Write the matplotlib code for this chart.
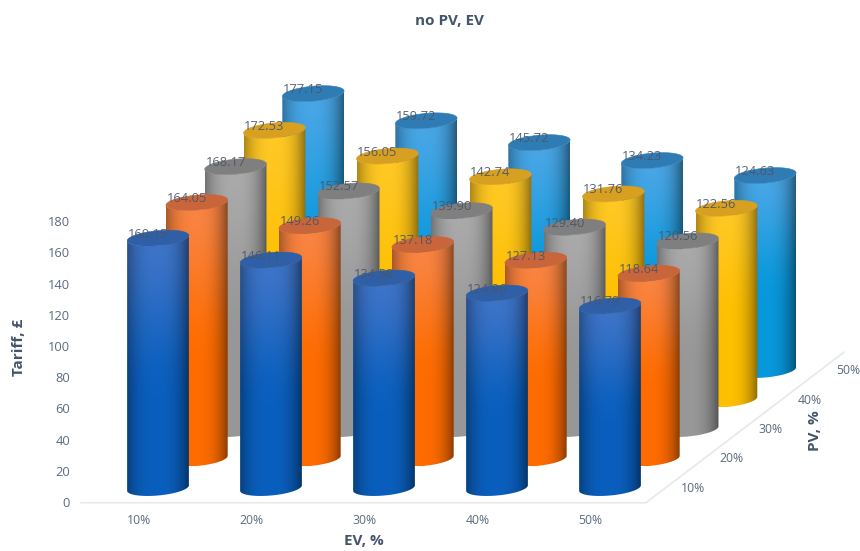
import numpy as np
import matplotlib
matplotlib.use("Agg")
import matplotlib.pyplot as plt
from matplotlib.path import Path
from matplotlib.patches import PathPatch

plt.rcParams['font.family'] = ['Open Sans', 'DejaVu Sans']

ev_labels = ["10%", "20%", "30%", "40%", "50%"]
pv_labels = ["10%", "20%", "30%", "40%", "50%"]
tariff_ticks = [0, 20, 40, 60, 80, 100, 120, 140, 160, 180]

tariff_pv10 = [160.15, 146.11, 134.58, 124.96, 116.79]
tariff_pv20 = [164.05, 149.26, 137.18, 127.13, 118.64]
tariff_pv30 = [168.17, 152.57, 139.90, 129.40, 120.56]
tariff_pv40 = [172.53, 156.05, 142.74, 131.76, 122.56]
tariff_pv50 = [177.15, 159.72, 145.72, 134.23, 124.63]
tariff_rows = [tariff_pv10, tariff_pv20, tariff_pv30, tariff_pv40, tariff_pv50]

# (cap, upper wall, lower wall) for each PV row
row_colours = [
    ("#2f5fa6", "#3d74c8", "#0a5fbe"),
    ("#c9653a", "#f98442", "#ff6c00"),
    ("#7f7f7f", "#aaaaaa", "#989898"),
    ("#d8a020", "#ffc824", "#ffc000"),
    ("#2f7cb4", "#48a6e6", "#0898dc"),
]

TEXT = "#5c6b7f"
HEAD = "#44546a"

# Oblique projection of (EV index, PV index, tariff) onto the canvas, in pixels
ORIGIN_X, ORIGIN_Y = 158.0, 488.0
EV_STEP = 113.0
PV_STEP_X, PV_STEP_Y = 38.8, 29.5
PX_PER_UNIT = 1.56
R_EV, R_PV = 0.257, 0.27


def project(ev, pv, value=0.0):
    x = ORIGIN_X + EV_STEP * np.asarray(ev) + PV_STEP_X * np.asarray(pv)
    y = ORIGIN_Y - PV_STEP_Y * np.asarray(pv) - PX_PER_UNIT * np.asarray(value)
    return x, y


def rim(ev, pv, value, angles):
    return project(ev + R_EV * np.cos(angles), pv + R_PV * np.sin(angles), value)


def hex_rgb(colour):
    return np.array(matplotlib.colors.to_rgb(colour))


def wall_image(upper, lower, rows=400, cols=120):
    v = np.clip(np.linspace(0, 1, rows) / 0.62, 0, 1)
    v = (v * v * (3 - 2 * v))[:, None, None]
    base = hex_rgb(upper) * (1 - v) + hex_rgb(lower) * v
    u = np.linspace(-1, 1, cols)
    shade = 1 - 0.36 * np.abs(u + 0.04) ** 2.6 - 0.06 * np.clip(u, 0, 1) ** 4
    return np.clip(base * shade[None, :, None], 0, 1)


fig = plt.figure(figsize=(8.6, 5.51), dpi=100)
ax = fig.add_axes([0, 0, 1, 1])
ax.set_axis_off()

# Floor edges
floor_left = project(-0.51, -0.5)
floor_corner = project(4.49, -0.5)
floor_far = project(4.49, 4.6)
ax.plot([floor_left[0], floor_corner[0], floor_far[0]],
        [floor_left[1], floor_corner[1], floor_far[1]],
        color="#e6e8ec", lw=1.2, solid_joinstyle="miter", zorder=1)

z = 2
t_right = np.arctan2(PV_STEP_X * R_PV, EV_STEP * R_EV)
lower_arc = np.linspace(t_right, t_right - np.pi, 60)
full_circle = np.linspace(0, 2 * np.pi, 90)

for pv in range(len(tariff_rows) - 1, -1, -1):
    cap, upper, lower = row_colours[pv]
    image = wall_image(upper, lower)
    for ev, value in enumerate(tariff_rows[pv]):
        bx, by = rim(ev, pv, 0, lower_arc)
        tx, ty = rim(ev, pv, value, lower_arc[::-1])
        verts = np.column_stack([np.r_[bx, tx], np.r_[by, ty]])
        outline = Path(np.vstack([verts, verts[0]]), closed=True)
        im = ax.imshow(image, extent=(bx.min(), bx.max(), by.max(), ty.min()),
                       aspect="auto", interpolation="bilinear", zorder=z)
        im.set_clip_path(PathPatch(outline, transform=ax.transData))

        cx, cy = rim(ev, pv, value, full_circle)
        ax.fill(cx, cy, color=cap, lw=0.4, zorder=z + 0.1)
        z += 1

# Value labels sit above every cylinder
for pv, row in enumerate(tariff_rows):
    for ev, value in enumerate(row):
        lx, ly = project(ev, pv, value)
        ax.text(lx - 10, ly - 4, f"{value:.2f}", ha="center", va="center",
                fontsize=9.3, color="#4b5566", alpha=0.92, zorder=100)

ax.set_xlim(0, 860)
ax.set_ylim(551, 0)

# Tariff scale
for tick in tariff_ticks:
    ax.text(70, 503.5 - tick * PX_PER_UNIT, str(tick), ha="right", va="center",
            fontsize=9.3, color=TEXT)

# EV and PV category labels
for i, label in enumerate(ev_labels):
    ax.text(139 + 112.8 * i, 520.5, label, ha="center", va="center", fontsize=8.8, color=TEXT)
for j, label in enumerate(pv_labels):
    ax.text(693 + PV_STEP_X * j, 488.5 - PV_STEP_Y * j, label, ha="center", va="center",
            fontsize=8.8, color=TEXT)

ax.text(449, 21, "no PV, EV", ha="center", va="center", fontsize=11, fontweight="bold", color=HEAD)
ax.text(19, 347, "Tariff, £", ha="center", va="center", rotation=90, fontsize=11,
        fontweight="bold", color=HEAD)
ax.text(364, 541, "EV, %", ha="center", va="center", fontsize=11, fontweight="bold", color=HEAD)
ax.text(815, 431, "PV, %", ha="center", va="center", rotation=90, fontsize=11,
        fontweight="bold", color=HEAD)

fig.savefig("out.png", dpi=100)
